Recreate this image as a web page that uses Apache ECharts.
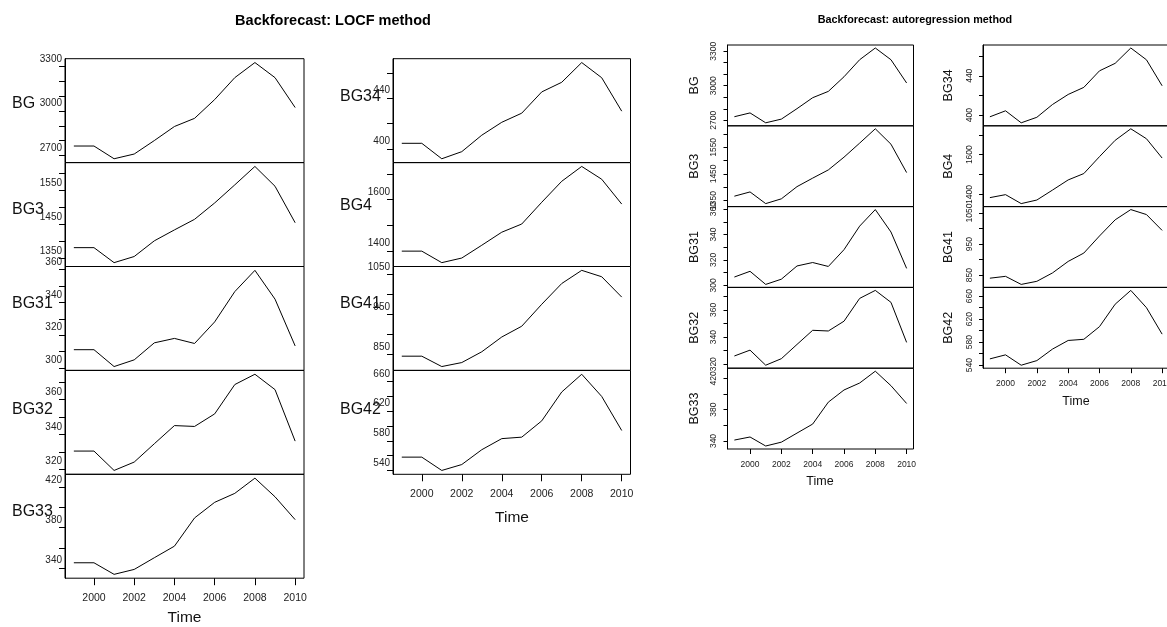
<!DOCTYPE html>
<html>
<head>
<meta charset="utf-8">
<script src="https://cdn.jsdelivr.net/npm/echarts@6/dist/echarts.min.js"></script>
<style>
  html, body { margin: 0; background: #fff; }
  #chart { width: 1167px; height: 627px; }
</style>
</head>
<body>
<div id="chart"></div>
<script>
// years and x ticks
const years = [1999, 2000, 2001, 2002, 2003, 2004, 2005, 2006, 2007, 2008, 2009, 2010]
const yearTicks = [2000, 2002, 2004, 2006, 2008, 2010]

// LOCF backforecast
const locfBG = [2764, 2764, 2678, 2710, 2801, 2896, 2951, 3078, 3226, 3328, 3226, 3024]
const locfBG3 = [1382, 1382, 1338, 1356, 1402, 1434, 1465, 1513, 1566, 1620, 1562, 1455]
const locfBG31 = [311.1, 311.1, 300.8, 304.9, 315.3, 318.0, 314.9, 328.1, 346.6, 359.6, 342.0, 313.4]
const locfBG32 = [330.4, 330.4, 319.3, 324.1, 334.6, 345.0, 344.5, 351.7, 368.5, 374.4, 365.6, 336.1]
const locfBG33 = [345.1, 345.1, 333.6, 338.5, 350.1, 361.6, 389.6, 405.1, 414.0, 429.1, 410.6, 387.9]
const locfBG34 = [404.4, 404.4, 392.2, 397.8, 410.8, 421.0, 428.2, 445.0, 452.6, 468.2, 456.2, 429.8]
const locfBG4 = [1399, 1399, 1354, 1372, 1422, 1473, 1505, 1590, 1672, 1730, 1680, 1583]
const locfBG41 = [846, 846, 820, 830, 857, 894, 921, 976, 1028, 1061, 1045, 994]
const locfBG42 = [558, 558, 540, 548, 568, 583, 585, 607, 646, 670, 640, 594]

// autoregression backforecast
const arBG = [2731, 2764, 2678, 2710, 2801, 2896, 2951, 3078, 3226, 3328, 3226, 3024]
const arBG3 = [1366, 1382, 1338, 1356, 1402, 1434, 1465, 1513, 1566, 1620, 1562, 1455]
const arBG31 = [306.6, 311.1, 300.8, 304.9, 315.3, 318.0, 314.9, 328.1, 346.6, 359.6, 342.0, 313.4]
const arBG32 = [326.1, 330.4, 319.3, 324.1, 334.6, 345.0, 344.5, 351.7, 368.5, 374.4, 365.6, 336.1]
const arBG33 = [341.2, 345.1, 333.6, 338.5, 350.1, 361.6, 389.6, 405.1, 414.0, 429.1, 410.6, 387.9]
const arBG34 = [398.3, 404.4, 392.2, 397.8, 410.8, 421.0, 428.2, 445.0, 452.6, 468.2, 456.2, 429.8]
const arBG4 = [1384, 1399, 1354, 1372, 1422, 1473, 1505, 1590, 1672, 1730, 1680, 1583]
const arBG41 = [840, 846, 820, 830, 857, 894, 921, 976, 1028, 1061, 1045, 994]
const arBG42 = [551, 558, 540, 548, 568, 583, 585, 607, 646, 670, 640, 594]

// y ticks / labels
const ticksBG = [2700, 2800, 2900, 3000, 3100, 3200, 3300]
const labelsBG = [2700, 3000, 3300]
const ticksBG3 = [1350, 1400, 1450, 1500, 1550, 1600]
const labelsBG3 = [1350, 1450, 1550]
const ticksBG31 = [300, 310, 320, 330, 340, 350, 360]
const labelsBG31 = [300, 320, 340, 360]
const ticksBG32 = [320, 330, 340, 350, 360, 370]
const labelsBG32 = [320, 340, 360]
const ticksBG33 = [340, 360, 380, 400, 420]
const labelsBG33 = [340, 380, 420]
const ticksBG34 = [400, 420, 440, 460]
const labelsBG34 = [400, 440]
const ticksBG4 = [1400, 1500, 1600, 1700]
const labelsBG4 = [1400, 1600]
const ticksBG41 = [850, 900, 950, 1000, 1050]
const labelsBG41 = [850, 950, 1050]
const ticksBG42 = [540, 560, 580, 600, 620, 640, 660]
const labelsBG42 = [540, 580, 620, 660]

const colLeft = [
  { name: 'BG', locf: locfBG, ar: arBG, ticks: ticksBG, labels: labelsBG },
  { name: 'BG3', locf: locfBG3, ar: arBG3, ticks: ticksBG3, labels: labelsBG3 },
  { name: 'BG31', locf: locfBG31, ar: arBG31, ticks: ticksBG31, labels: labelsBG31 },
  { name: 'BG32', locf: locfBG32, ar: arBG32, ticks: ticksBG32, labels: labelsBG32 },
  { name: 'BG33', locf: locfBG33, ar: arBG33, ticks: ticksBG33, labels: labelsBG33 },
]
const colRight = [
  { name: 'BG34', locf: locfBG34, ar: arBG34, ticks: ticksBG34, labels: labelsBG34 },
  { name: 'BG4', locf: locfBG4, ar: arBG4, ticks: ticksBG4, labels: labelsBG4 },
  { name: 'BG41', locf: locfBG41, ar: arBG41, ticks: ticksBG41, labels: labelsBG41 },
  { name: 'BG42', locf: locfBG42, ar: arBG42, ticks: ticksBG42, labels: labelsBG42 },
]

const FONT = "'Liberation Sans', Arial, Helvetica, sans-serif"
const INK = '#000'
const TXT = '#222'

// panel blocks (pixel layout)
const blocks = [
  { kind: 'locf', panels: colLeft, left: 65, width: 239, top: 58.7, h: 103.9,
    nameX: 12, nameY: [104, 210, 304, 410, 512], timeX: 184.5, timeY: 618 },
  { kind: 'locf', panels: colRight, left: 393, width: 237.5, top: 58.7, h: 103.9,
    nameX: 340, nameY: [97, 206, 304, 410], timeX: 512, timeY: 518 },
  { kind: 'ar', panels: colLeft, left: 727.5, width: 186, top: 45, h: 80.8,
    nameX: 695, timeX: 820, timeY: 482 },
  { kind: 'ar', panels: colRight, left: 983, width: 186, top: 45, h: 80.8,
    nameX: 949, timeX: 1076, timeY: 402 },
]

const xSpan = years[years.length - 1] - years[0]
const xMin = years[0] - 0.04 * xSpan
const xMax = years[years.length - 1] + 0.04 * xSpan
const plain = v => String(v)

const grid = []
const xAxis = []
const yAxis = []
const series = []
const graphic = []

blocks.forEach(b => {
  const big = b.kind === 'locf'
  b.panels.forEach((p, i) => {
    const gi = grid.length
    const last = i === b.panels.length - 1
    const top = b.top + i * b.h
    grid.push({
      left: b.left, top: top, width: b.width, height: b.h,
      outerBoundsMode: 'none', containLabel: false,
      show: true, borderColor: INK, borderWidth: 1, backgroundColor: 'transparent',
    })
    xAxis.push({
      gridIndex: gi, type: 'value', min: xMin, max: xMax,
      axisLine: { show: false },
      splitLine: { show: false },
      axisTick: { show: last, customValues: yearTicks, length: big ? 7 : 5, lineStyle: { color: INK } },
      axisLabel: {
        show: last, customValues: yearTicks, margin: big ? 14 : 11, formatter: plain,
        fontSize: big ? 10.5 : 8.5, color: TXT, fontFamily: FONT,
      },
    })
    const data = big ? p.locf : p.ar
    const lo = Math.min(...data)
    const hi = Math.max(...data)
    const pad = (hi - lo) * 0.04
    const yMin = lo - pad
    const yMax = hi + pad
    yAxis.push({
      gridIndex: gi, type: 'value', min: yMin, max: yMax,
      axisLine: { show: true, lineStyle: { color: INK } },
      splitLine: { show: false },
      axisTick: {
        show: true, length: big ? 6 : 4, lineStyle: { color: INK },
        customValues: p.ticks.filter(t => t >= yMin && t <= yMax),
      },
      axisLabel: big
        ? { customValues: p.labels.filter(t => t >= yMin && t <= yMax), margin: 3, formatter: plain,
            fontSize: 10, color: TXT, fontFamily: FONT, verticalAlign: 'bottom', lineHeight: 15 }
        : { customValues: p.labels.filter(t => t >= yMin && t <= yMax), margin: 9, rotate: 90,
            formatter: plain, fontSize: 8.5, color: TXT, fontFamily: FONT },
    })
    series.push({
      type: 'line', xAxisIndex: gi, yAxisIndex: gi,
      data: years.map((yr, k) => [yr, data[k]]),
      symbol: 'none', silent: true,
      lineStyle: { color: INK, width: 1 },
    })
    // panel names
    if (big) {
      graphic.push({
        type: 'text', x: b.nameX, y: b.nameY[i], silent: true,
        style: { text: p.name, fill: '#111', font: '16px ' + FONT,
          textAlign: 'left', textVerticalAlign: 'middle', align: 'left', verticalAlign: 'middle' },
      })
    } else {
      graphic.push({
        type: 'text', x: b.nameX, y: top + b.h / 2, rotation: Math.PI / 2, silent: true,
        style: { text: p.name, fill: '#111', font: '12.5px ' + FONT,
          textAlign: 'center', textVerticalAlign: 'middle', align: 'center', verticalAlign: 'middle' },
      })
    }
  })
  graphic.push({
    type: 'text', x: b.timeX, y: b.timeY, silent: true,
    style: { text: 'Time', fill: '#111', font: (big ? '15.5px ' : '12.5px ') + FONT,
      textAlign: 'center', textVerticalAlign: 'middle', align: 'center', verticalAlign: 'middle' },
  })
})

graphic.push({
  type: 'text', x: 333, y: 21, silent: true,
  style: { text: 'Backforecast: LOCF method', fill: '#000', font: 'bold 14.5px ' + FONT,
    textAlign: 'center', textVerticalAlign: 'middle', align: 'center', verticalAlign: 'middle' },
})
graphic.push({
  type: 'text', x: 915, y: 20, silent: true,
  style: { text: 'Backforecast: autoregression method', fill: '#000', font: 'bold 10.8px ' + FONT,
    textAlign: 'center', textVerticalAlign: 'middle', align: 'center', verticalAlign: 'middle' },
})

const chart = echarts.init(document.getElementById('chart'))
chart.setOption({
  animation: false,
  backgroundColor: '#fff',
  grid: grid,
  xAxis: xAxis,
  yAxis: yAxis,
  series: series,
  graphic: graphic,
})
window.onresize = chart.resize
</script>
</body>
</html>
